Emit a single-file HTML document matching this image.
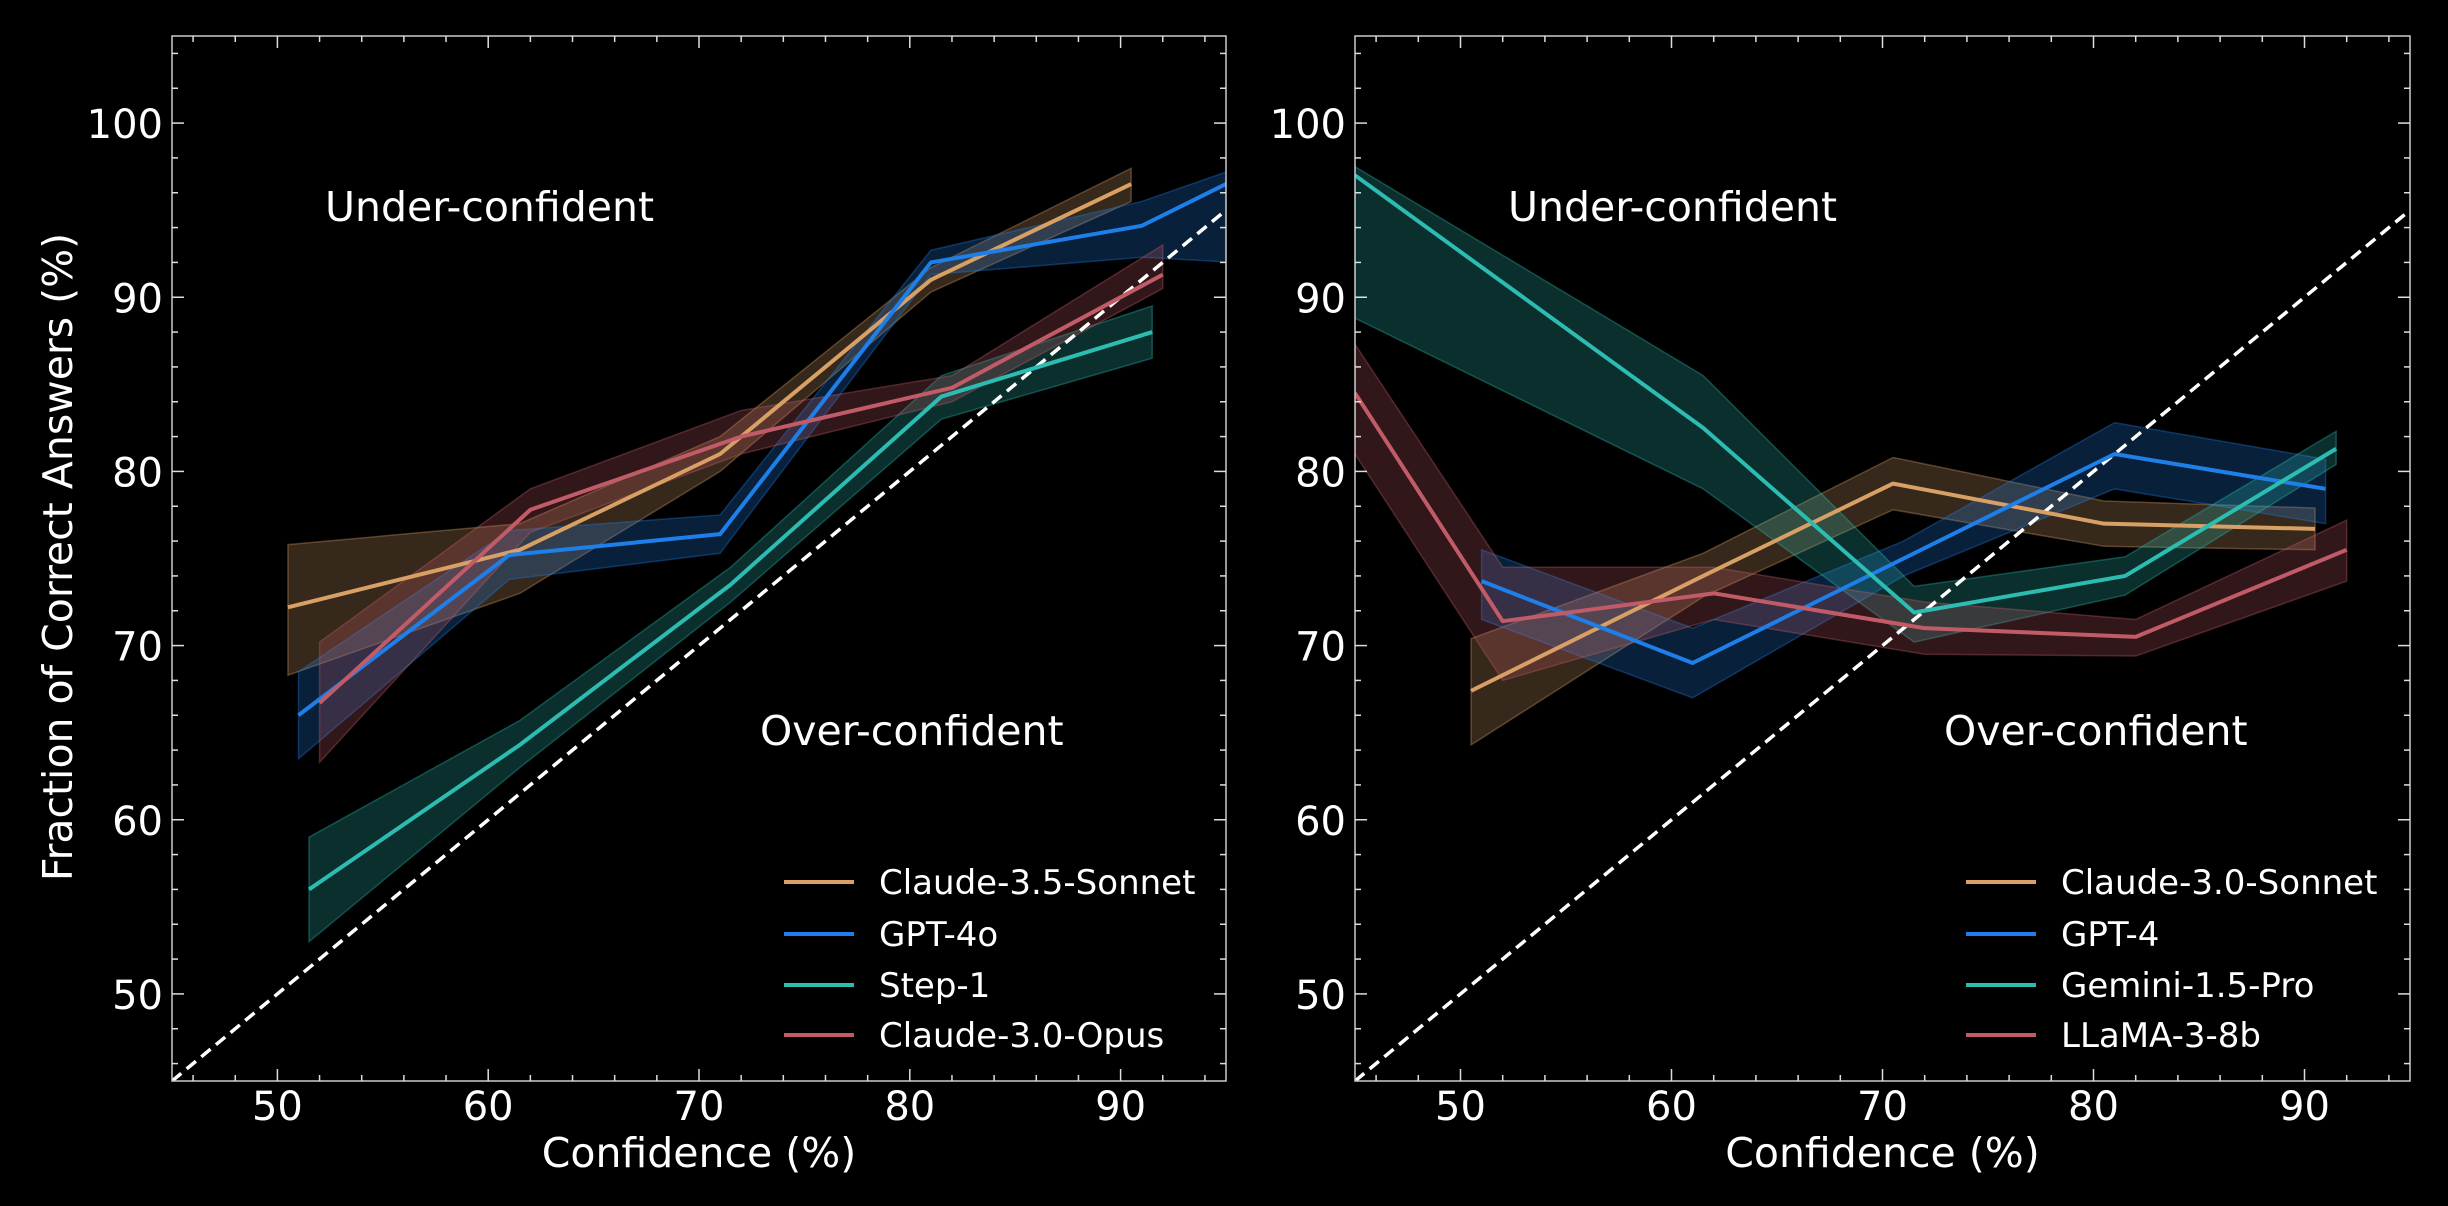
<!DOCTYPE html>
<html><head><meta charset="utf-8"><style>
html,body{margin:0;padding:0;background:#000;}
svg{display:block;font-family:"DejaVu Sans","Liberation Sans",sans-serif;}
</style></head><body>
<svg id="chart" width="2448" height="1206" viewBox="0 0 2448 1206" xmlns="http://www.w3.org/2000/svg">
<rect width="2448" height="1206" fill="#000"/>
</svg>
<script>
const xTicks=[50,60,70,80,90];
const yTicks=[50,60,70,80,90,100];
// left panel data
const lNames=["Claude-3.5-Sonnet","GPT-4o","Step-1","Claude-3.0-Opus"];
const lColors=["#d9a066","#1f7fe8","#2cbcb2","#c25b68"];
const lX=[[50.5,61.5,71,81,90.5],[51,61,71,81,91,95.5],[51.5,61.5,71.5,81.5,91.5],[52,62,72,82,92]];
const lY=[[72.2,75.5,81,91,96.5],[66,75.2,76.4,92,94.1,96.8],[56,64.3,73.5,84.3,88],[66.7,77.8,82,84.8,91.3]];
const lLo=[[68.3,73,80,90.3,95.5],[63.5,73.8,75.3,91.3,92.3,92],[53,63,72.5,83,86.5],[63.3,76.5,81,84,90.5]];
const lHi=[[75.8,77,82,91.7,97.4],[68.5,76.6,77.5,92.7,95.5,97.4],[59,65.7,74.5,85.5,89.5],[70.2,79,83.5,85.5,93]];
// right panel data
const rNames=["Claude-3.0-Sonnet","GPT-4","Gemini-1.5-Pro","LLaMA-3-8b"];
const rColors=["#d9a066","#1f7fe8","#2cbcb2","#c25b68"];
const rX=[[50.5,61.5,70.5,80.5,90.5],[51,61,71,81,91],[45,61.5,71.5,81.5,91.5],[45,52,62,72,82,92]];
const rY=[[67.4,74,79.3,77,76.7],[73.7,69,75,81,79],[97,82.5,71.9,74,81.3],[84.5,71.4,73,71,70.5,75.5]];
const rLo=[[64.3,72.8,77.8,75.7,75.5],[71.5,67,74,79,77],[88.8,79,70.2,72.9,80.4],[81,68,71.5,69.5,69.4,73.7]];
const rHi=[[70.4,75.3,80.8,78.3,77.9],[75.5,71,76,82.8,80.7],[97.5,85.5,73.4,75.1,82.3],[87.3,74.5,74.5,72.5,71.5,77.2]];

const NS="http://www.w3.org/2000/svg";
const svg=document.getElementById('chart');
function mk(tag,attrs,parent){const e=document.createElementNS(NS,tag);for(const k in attrs)e.setAttribute(k,attrs[k]);(parent||svg).appendChild(e);return e;}

function panel(id,x0,x1,names,colors,X,Y,LO,HI,legX,underX,overX,yLabel){
  const y0=1081,y1=36;
  const sx=v=>x0+(v-45)/(95-45)*(x1-x0);
  const sy=v=>y0-(v-45)/(105-45)*(y0-y1);
  const g=mk('g',{});
  
  
  const cp=mk('clipPath',{id:id+'clip'},g);
  mk('rect',{x:x0,y:y1,width:x1-x0,height:y0-y1},cp);
  const plot=mk('g',{'clip-path':'url(#'+id+'clip)'},g);
  for(let s=0;s<names.length;s++){
    let pts=X[s].map((x,i)=>sx(x)+','+sy(HI[s][i]));
    pts=pts.concat(X[s].map((x,i)=>sx(x)+','+sy(LO[s][i])).reverse());
    const b=mk('polygon',{points:pts.join(' '),fill:colors[s],'fill-opacity':0.25,stroke:colors[s],'stroke-opacity':0.35,'stroke-width':1.5},plot);
    
    
  }
  const d=mk('line',{x1:sx(45),y1:sy(45),x2:sx(95),y2:sy(95),stroke:'#fff','stroke-width':3.5,'stroke-dasharray':'12,7'},plot);
  
  
  for(let s=0;s<names.length;s++){
    const l=mk('polyline',{points:X[s].map((x,i)=>sx(x)+','+sy(Y[s][i])).join(' '),fill:'none',stroke:colors[s],'stroke-width':4,'stroke-linejoin':'round'},plot);
    
    
  }
  const fr=mk('rect',{x:x0,y:y1,width:x1-x0,height:y0-y1,fill:'none',stroke:'#ccc','stroke-width':1.5},g);
  
  
  for(let v=46;v<=94;v+=2){const X1=sx(v);const maj=v%10==0;const L=maj?12:6;
    mk('line',{x1:X1,y1:y0,x2:X1,y2:y0-L,stroke:'#ddd','stroke-width':1.5},g);
    mk('line',{x1:X1,y1:y1,x2:X1,y2:y1+L,stroke:'#ddd','stroke-width':1.5},g);}
  for(let v=46;v<=104;v+=2){const Y1=sy(v);const maj=v%10==0;const L=maj?12:6;
    mk('line',{x1:x0,y1:Y1,x2:x0+L,y2:Y1,stroke:'#ddd','stroke-width':1.5},g);
    mk('line',{x1:x1,y1:Y1,x2:x1-L,y2:Y1,stroke:'#ddd','stroke-width':1.5},g);}
  xTicks.forEach(v=>{const t=mk('text',{x:sx(v),y:1120,fill:'#fff','font-size':40,'text-anchor':'middle'},g);t.textContent=v;
    });
  yTicks.forEach(v=>{const t=mk('text',{x:x0-9,y:sy(v)+15,fill:'#fff','font-size':40,'text-anchor':'end'},g);t.textContent=v;
    });
  const xl=mk('text',{x:(x0+x1)/2,y:1167,fill:'#fff','font-size':41,'text-anchor':'middle'},g);xl.textContent='Confidence (%)';
  
  if(yLabel){const yl=mk('text',{x:0,y:0,fill:'#fff','font-size':41,'text-anchor':'middle',transform:'translate(72,557) rotate(-90)'},g);yl.textContent='Fraction of Correct Answers (%)';
    }
  const u=mk('text',{x:underX,y:221,fill:'#fff','font-size':41},g);u.textContent='Under-confident';
  
  const o=mk('text',{x:overX,y:745,fill:'#fff','font-size':41},g);o.textContent='Over-confident';
  
  const lg=mk('g',{},g);
  
  const rows=[882,934,985,1035];
  names.forEach((n,i)=>{
    const e=mk('g',{},lg);
    
    mk('line',{x1:legX,y1:rows[i],x2:legX+70,y2:rows[i],stroke:colors[i],'stroke-width':4},e);
    const t=mk('text',{x:legX+95,y:rows[i]+12,fill:'#fff','font-size':34},e);t.textContent=n;
  });
}
panel('left',172,1226,lNames,lColors,lX,lY,lLo,lHi,784,325,760,true);
panel('right',1355,2410,rNames,rColors,rX,rY,rLo,rHi,1966,1508,1944,false);
</script>
</body></html>
